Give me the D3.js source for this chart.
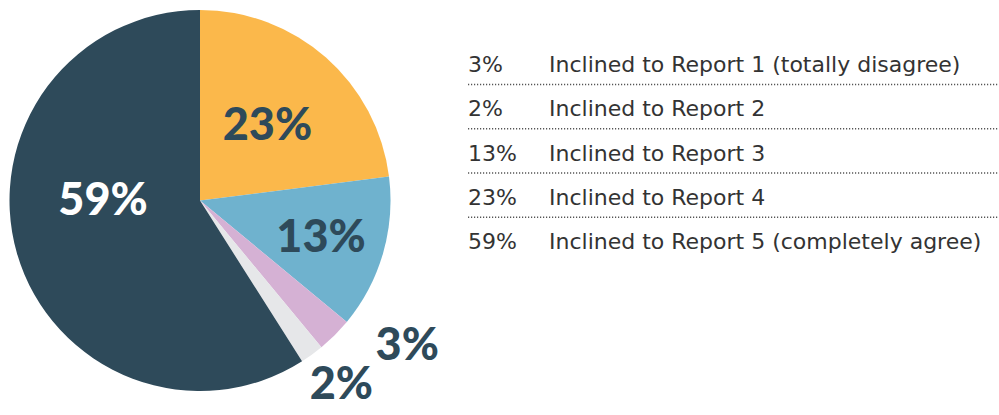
<!DOCTYPE html>
<html>
<head>
<meta charset="utf-8">
<script src="https://cdn.jsdelivr.net/npm/d3@7"></script>
<style>
  body { margin: 0; background: #fff; }
  svg { display: block; }
  .big { font-family: Lato, "Open Sans", sans-serif; font-weight: 900; }
  .leg { font-family: "DejaVu Sans", Lato, sans-serif; font-size: 22px; fill: #333; }
</style>
</head>
<body>
<div id="chart"></div>
<script>
// slice order, clockwise from 12 o'clock
const sliceNames = ['Report 4', 'Report 3', 'Report 1', 'Report 2', 'Report 5'];
const sliceValues = [23, 13, 3, 2, 59];
const sliceColors = ['#fbb84b', '#6fb2ce', '#d5b1d4', '#e6e7e9', '#2e4a5a'];

// legend rows, top to bottom
const legendValues = [3, 2, 13, 23, 59];
const legendLabels = [
  'Inclined to Report 1 (totally disagree)',
  'Inclined to Report 2',
  'Inclined to Report 3',
  'Inclined to Report 4',
  'Inclined to Report 5 (completely agree)'
];

const width = 999, height = 415;
const cx = 200, cy = 200.5, radius = 190.5;

// where each slice's label sits: radius and angle nudge (radians)
const labelPlace = {
  'Report 4': { r: 102, da: 0, fill: '#2e4a5a' },
  'Report 3': { r: 126, da: 0, fill: '#2e4a5a' },
  'Report 1': { r: 252, da: -0.18, fill: '#2e4a5a' },
  'Report 2': { r: 231, da: -0.03, fill: '#2e4a5a' },
  'Report 5': { r: 97, da: 0.3, fill: '#ffffff' }
};

const svg = d3.select('#chart')
  .append('svg')
  .attr('width', width)
  .attr('height', height);

const g = svg.append('g')
  .attr('transform', 'translate(' + cx + ',' + cy + ')');

const data = sliceNames.map((n, i) => ({ name: n, value: sliceValues[i] }));

const color = d3.scaleOrdinal()
  .domain(sliceNames)
  .range(sliceColors);

const pie = d3.pie()
  .sort(null)
  .value(d => d.value);

const path = d3.arc()
  .outerRadius(radius)
  .innerRadius(0);

const arcs = pie(data);

g.selectAll('.arc')
  .data(arcs)
  .enter().append('path')
  .attr('class', 'arc')
  .attr('d', path)
  .attr('fill', d => color(d.data.name));

g.selectAll('.big')
  .data(arcs)
  .enter().append('text')
  .attr('class', 'big')
  .attr('transform', d => {
    const p = labelPlace[d.data.name];
    const a = (d.startAngle + d.endAngle) / 2 + p.da;
    return 'translate(' + (p.r * Math.sin(a)) + ',' + (-p.r * Math.cos(a)) + ')';
  })
  .attr('text-anchor', 'middle')
  .attr('dy', '0.36em')
  .attr('font-size', 45)
  .attr('fill', d => labelPlace[d.data.name].fill)
  .text(d => d.data.value + '%');

// legend
const rowY = d3.scalePoint()
  .domain(d3.range(legendValues.length))
  .range([72, 249]);

const legend = svg.append('g');

legend.selectAll('.sep')
  .data(d3.range(legendValues.length - 1))
  .enter().append('line')
  .attr('class', 'sep')
  .attr('x1', 468)
  .attr('x2', width)
  .attr('y1', d => rowY(d) + 12.5)
  .attr('y2', d => rowY(d) + 12.5)
  .attr('stroke', '#555')
  .attr('stroke-width', 1.3)
  .attr('stroke-dasharray', '1.2,1.8');

legend.selectAll('.pct')
  .data(legendValues)
  .enter().append('text')
  .attr('class', 'leg pct')
  .attr('x', 468)
  .attr('y', (d, i) => rowY(i))
  .text(d => d + '%');

legend.selectAll('.lab')
  .data(legendLabels)
  .enter().append('text')
  .attr('class', 'leg lab')
  .attr('x', 549)
  .attr('y', (d, i) => rowY(i))
  .text(d => d);
</script>
</body>
</html>
